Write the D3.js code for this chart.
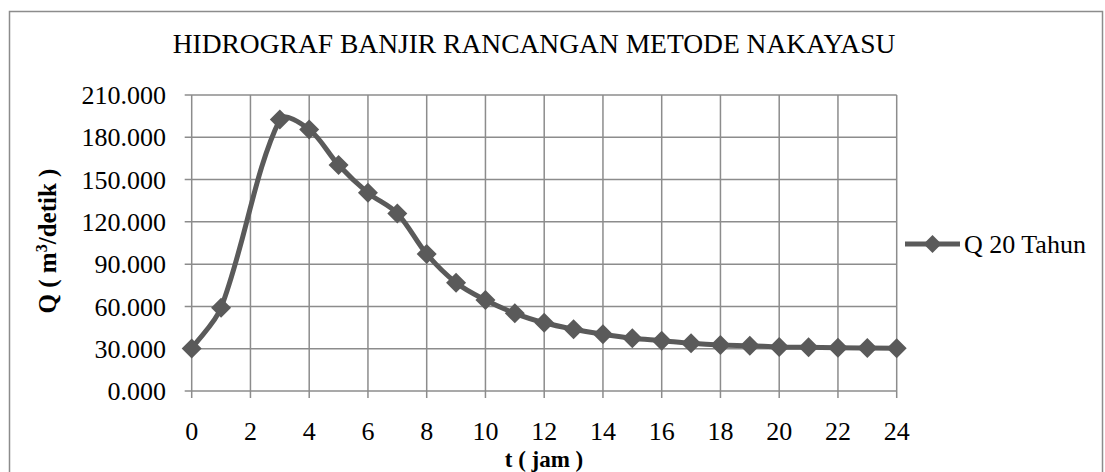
<!DOCTYPE html>
<html>
<head>
<meta charset="utf-8">
<script src="https://cdn.jsdelivr.net/npm/d3@7/dist/d3.min.js"></script>
<style>
  html, body { margin: 0; padding: 0; background: #fff; }
  svg { display: block; font-family: "Liberation Serif", "Times New Roman", serif; }
</style>
</head>
<body>
<svg id="chart" width="1105" height="472"></svg>
<script>
// Nakayasu design flood hydrograph, 20-year return period
const hours = [0, 1, 3, 4, 5, 6, 7, 8, 9, 10, 11, 12, 13, 14, 15, 16, 17, 18, 19, 20, 21, 22, 23, 24];
const discharge = [30.2, 59.1, 192.6, 185.6, 160.3, 140.6, 126.0, 97.2, 76.8, 64.5, 55.1, 48.4, 43.8, 40.2,
                   37.4, 35.7, 33.8, 32.6, 32.1, 31.3, 31.0, 30.7, 30.5, 30.3];
const xTicks = [0, 2, 4, 6, 8, 10, 12, 14, 16, 18, 20, 22, 24];
const yTicks = [0, 30, 60, 90, 120, 150, 180, 210];
const seriesName = "Q 20 Tahun";
const chartTitle = "HIDROGRAF BANJIR RANCANGAN METODE NAKAYASU";

const svg = d3.select("#chart");
const gridColor = "#8c8c8c";
const lineColor = "#5a5a5a";

const x = d3.scaleLinear().domain([0, 24]).range([191.7, 896.7]);
const y = d3.scaleLinear().domain([0, 210]).range([391, 95]);

// outer frame
svg.append("rect")
  .attr("x", 9.5).attr("y", 11.5)
  .attr("width", 1093).attr("height", 470)
  .attr("fill", "none").attr("stroke", gridColor).attr("stroke-width", 1.5);

// title
svg.append("text")
  .attr("x", 534).attr("y", 52.5)
  .attr("text-anchor", "middle")
  .attr("font-size", 27.5)
  .attr("fill", "#000")
  .text(chartTitle);

// gridlines
const grid = svg.append("g").attr("stroke", gridColor).attr("stroke-width", 1.5);
grid.selectAll("line.h").data(yTicks).join("line")
  .attr("x1", x(0) - 7).attr("x2", x(24))
  .attr("y1", d => y(d)).attr("y2", d => y(d));
grid.selectAll("line.v").data(xTicks).join("line")
  .attr("x1", d => x(d)).attr("x2", d => x(d))
  .attr("y1", y(210)).attr("y2", y(0) + 7);

// axis labels
const fmt = d3.format(".3f");
svg.append("g").selectAll("text").data(yTicks).join("text")
  .attr("x", 166).attr("y", d => y(d))
  .attr("dy", "0.35em")
  .attr("text-anchor", "end")
  .attr("font-size", 26)
  .text(d => fmt(d));

svg.append("g").selectAll("text").data(xTicks).join("text")
  .attr("x", d => x(d)).attr("y", 440)
  .attr("text-anchor", "middle")
  .attr("font-size", 26)
  .text(d => d);

// axis titles
svg.append("text")
  .attr("x", 544).attr("y", 466.5)
  .attr("text-anchor", "middle")
  .attr("font-size", 23).attr("font-weight", "bold")
  .text("t ( jam )");

const yTitle = svg.append("text")
  .attr("transform", "translate(56,241) rotate(-90)")
  .attr("text-anchor", "middle")
  .attr("font-size", 25).attr("font-weight", "bold");
yTitle.append("tspan").text("Q ( m");
yTitle.append("tspan").attr("font-size", 16).attr("dy", -9).text("3");
yTitle.append("tspan").attr("dy", 9).text("/detik )");

// series: smoothed line, tangents weighted by neighbouring segment lengths
const pts = hours.map((h, i) => [x(h), y(discharge[i])]);
function smoothPath(p) {
  const path = d3.path();
  const n = p.length;
  const dist = (a, b) => Math.hypot(b[0] - a[0], b[1] - a[1]);
  const ctrl = (i, forward) => {
    const prev = p[Math.max(i - 1, 0)], next = p[Math.min(i + 1, n - 1)];
    const tx = next[0] - prev[0], ty = next[1] - prev[1];
    const dPrev = i > 0 ? dist(p[i - 1], p[i]) : 0;
    const dNext = i < n - 1 ? dist(p[i], p[i + 1]) : 0;
    const w = (forward ? dNext : dPrev) / (dPrev + dNext);
    const s = forward ? 1 : -1;
    const k = (i === 0 || i === n - 1) ? 1 / 3 : 1 / 3;
    return [p[i][0] + s * tx * w * k, p[i][1] + s * ty * w * k];
  };
  path.moveTo(p[0][0], p[0][1]);
  for (let i = 0; i < n - 1; i++) {
    const c1 = ctrl(i, true), c2 = ctrl(i + 1, false);
    path.bezierCurveTo(c1[0], c1[1], c2[0], c2[1], p[i + 1][0], p[i + 1][1]);
  }
  return path.toString();
}
svg.append("path")
  .attr("d", smoothPath(pts))
  .attr("fill", "none").attr("stroke", lineColor)
  .attr("stroke-width", 5).attr("stroke-linejoin", "round");

const diamond = r => `M0,${-r}L${r},0L0,${r}L${-r},0Z`;
svg.append("g").selectAll("path").data(pts).join("path")
  .attr("transform", d => `translate(${d[0]},${d[1]})`)
  .attr("d", diamond(10))
  .attr("fill", lineColor);

// legend
const lg = svg.append("g").attr("transform", "translate(905,244)");
lg.append("line").attr("x1", 0).attr("x2", 55).attr("y1", 0).attr("y2", 0)
  .attr("stroke", lineColor).attr("stroke-width", 5);
lg.append("path").attr("transform", "translate(27.5,0)").attr("d", diamond(9)).attr("fill", lineColor);
lg.append("text").attr("x", 59).attr("y", 0).attr("dy", "0.35em")
  .attr("font-size", 26).text(seriesName);
</script>
</body>
</html>
